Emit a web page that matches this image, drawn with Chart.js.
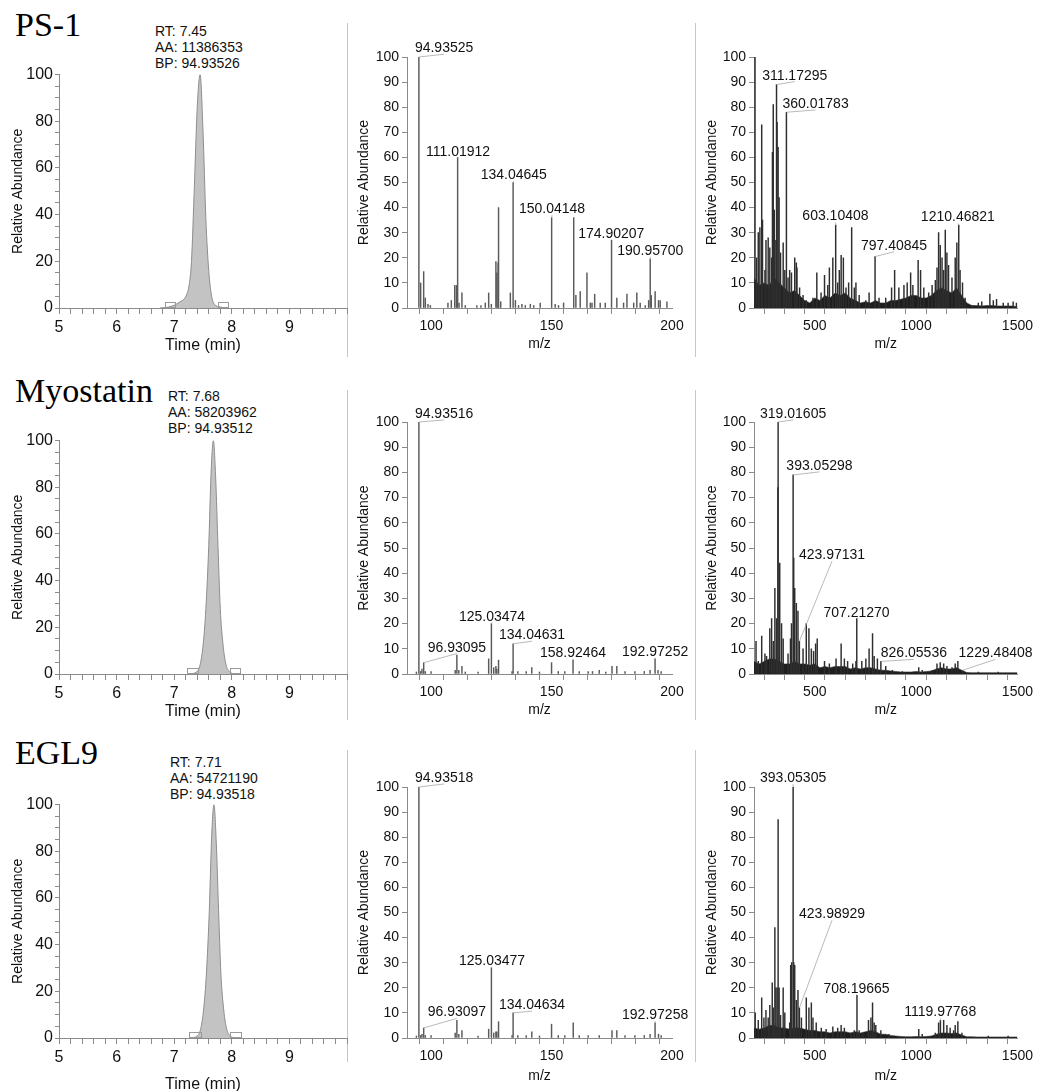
<!DOCTYPE html>
<html>
<head>
<meta charset="utf-8">
<title>PS-1 / Myostatin / EGL9</title>
<script src="https://cdn.jsdelivr.net/npm/chart.js@4.4.1/dist/chart.umd.min.js"></script>
<style>
  html, body { margin: 0; padding: 0; background: #fff; overflow: hidden; }
  body { position: relative; width: 1037px; height: 1091px; font-family: "Liberation Sans", Arial, sans-serif; }
  canvas { position: absolute; }
  .name { position: absolute; font-family: "Liberation Serif", "Times New Roman", serif; font-size: 34px; line-height: 34px; color: #000; white-space: nowrap; }
  .info { position: absolute; font-size: 14px; line-height: 15.8px; color: #111; white-space: nowrap; }
  .sep { position: absolute; width: 1px; background: #c6c6c6; }
</style>
</head>
<body>
<div class="name" style="left:15px; top:8px;">PS-1</div>
<div class="name" style="left:15px; top:374px;">Myostatin</div>
<div class="name" style="left:15px; top:736px;">EGL9</div>
<div class="info" style="left:155px; top:24px;">RT: 7.45<br>AA: 11386353<br>BP: 94.93526</div>
<div class="info" style="left:168px; top:389px;">RT: 7.68<br>AA: 58203962<br>BP: 94.93512</div>
<div class="info" style="left:170px; top:755px;">RT: 7.71<br>AA: 54721190<br>BP: 94.93518</div>

<div class="sep" style="left:347px; top:23px; height:334px;"></div>
<div class="sep" style="left:695px; top:23px; height:334px;"></div>
<div class="sep" style="left:347px; top:390px; height:330px;"></div>
<div class="sep" style="left:695px; top:390px; height:330px;"></div>
<div class="sep" style="left:347px; top:750px; height:312px;"></div>
<div class="sep" style="left:695px; top:750px; height:312px;"></div>

<canvas id="chromPS1"></canvas>
<canvas id="chromMyo"></canvas>
<canvas id="chromEgl"></canvas>
<canvas id="ms2PS1"></canvas>
<canvas id="ms2Myo"></canvas>
<canvas id="ms2Egl"></canvas>
<canvas id="fullPS1"></canvas>
<canvas id="fullMyo"></canvas>
<canvas id="fullEgl"></canvas>

<script>
// Chromatograms (time in min, relative abundance)
const ps1Time = [6.75, 6.90, 7.00, 7.10, 7.17, 7.22, 7.26, 7.30, 7.35, 7.40, 7.45, 7.50, 7.55, 7.60, 7.65, 7.70, 7.80, 7.95];
const ps1Abund = [0, 0.4, 1.2, 2.6, 3.8, 6, 10, 20, 52, 86, 100, 76, 38, 16, 5, 1.6, 0.4, 0];
const ps1Bounds = [[6.84, 7.01], [7.76, 7.93]];

const myoTime = [7.30, 7.38, 7.44, 7.50, 7.55, 7.60, 7.64, 7.68, 7.72, 7.76, 7.80, 7.85, 7.90, 7.96, 8.05];
const myoAbund = [0, 0.8, 3, 12, 28, 55, 86, 100, 84, 55, 28, 12, 4, 1, 0];
const myoBounds = [[7.23, 7.42], [7.97, 8.15]];

const eglTime = [7.31, 7.39, 7.45, 7.51, 7.56, 7.61, 7.65, 7.69, 7.73, 7.77, 7.81, 7.86, 7.91, 7.97, 8.06];
const eglAbund = [0, 0.8, 3, 12, 28, 55, 86, 100, 84, 55, 28, 12, 4, 1, 0];
const eglBounds = [[7.25, 7.45], [7.97, 8.16]];

// MS/MS spectra, m/z 90-200
const ps1Ms2Mz = [94.93525, 95.67, 96.92, 97.6, 98.7, 99.7, 107.0, 108.4, 109.8, 110.5, 111.01912, 111.6, 112.8, 114.2, 119.0, 120.7, 122.5, 123.9, 125.0, 126.9, 127.3, 127.8, 128.0, 128.9, 132.9, 134.04645, 135.0, 136.3, 137.7, 139.1, 141.2, 142.6, 145.3, 150.04148, 151.5, 152.9, 155.0, 159.2, 160.1, 161.9, 164.7, 166.1, 166.8, 167.9, 170.2, 172.3, 174.90207, 177.1, 179.9, 181.3, 184.1, 185.4, 186.8, 188.9, 190.3, 190.957, 191.4, 193.0, 194.4, 195.1, 197.9];
const ps1Ms2Int = [100, 10, 14.5, 4, 1.5, 1, 2, 3, 9, 9, 60, 2, 6, 1, 1, 1, 2, 6, 1.5, 18.5, 14, 18, 40, 2.5, 6, 50, 3, 1, 1.5, 1, 1.5, 1, 2, 36, 1.5, 1, 2, 36, 5, 6.5, 14, 2, 2, 5.5, 2, 2, 27, 4, 2, 5.5, 2, 6, 2, 1, 3, 19.5, 5, 6.5, 3, 3, 2.5];

const myoMs2Mz = [93.9, 94.93516, 95.6, 96.2, 96.93095, 97.6, 100.0, 110.0, 110.7, 111.5, 112.8, 114.2, 119.5, 123.9, 125.03474, 126.0, 126.9, 127.3, 128.0, 133.6, 134.04631, 136.0, 139.5, 141.8, 145.0, 150.0, 152.8, 155.5, 158.92464, 161.5, 165.2, 167.0, 169.8, 172.5, 175.1, 177.1, 180.5, 184.6, 188.5, 190.9, 192.97252, 194.2, 195.5];
const myoMs2Int = [0.8, 100, 1, 2, 4.5, 1, 1, 1.5, 7.5, 1.5, 3, 0.8, 0.8, 6, 20, 2.5, 3, 2, 5.5, 1, 12, 1, 1, 2.5, 0.8, 4.5, 1, 1, 5.5, 1, 1, 1, 1.5, 0.8, 3, 3, 1, 1, 1, 1.5, 6, 1.5, 1];

const eglMs2Mz = [93.9, 94.93518, 95.6, 96.2, 96.93097, 97.6, 100.0, 110.0, 110.7, 111.5, 112.8, 119.5, 123.9, 125.03477, 126.0, 126.9, 127.3, 128.0, 133.6, 134.04634, 136.0, 139.5, 141.8, 145.0, 150.0, 152.8, 155.5, 159.0, 161.5, 165.2, 169.8, 175.1, 177.1, 180.5, 184.6, 188.5, 190.9, 192.97258, 194.4, 195.5];
const eglMs2Int = [0.8, 100, 1, 1.5, 4, 1, 1, 2, 7, 1.5, 3, 0.8, 3.5, 28, 2, 2.5, 2.5, 6.5, 1, 10, 1, 1, 2.5, 0.8, 5.5, 1, 1, 6, 1, 1, 1, 3, 3, 1, 1, 1, 1.5, 6, 1.5, 1];

// Full scan spectra, m/z 200-1500
const ps1FullMz = [205, 213, 221, 229, 238, 242, 254, 259, 270, 278, 287, 291, 295, 300, 308, 311.17295, 314, 319, 324, 331, 344, 352, 360.01783, 368, 376, 385, 401, 409, 412, 425, 442, 458, 491, 510, 531, 548, 564, 572, 589, 603.10408, 613, 621, 630, 641, 654, 667, 682, 695, 703, 719, 752, 768, 797.40845, 817, 850, 879, 894, 915, 940, 956, 973, 984, 1010, 1022, 1038, 1062, 1079, 1095, 1103, 1111, 1119, 1128, 1136, 1144, 1152, 1160, 1177, 1193, 1201, 1210.46821, 1217, 1229, 1242, 1275, 1307, 1324, 1364, 1381, 1397, 1430, 1454, 1479, 1495];
const ps1FullInt = [100, 20, 30, 32, 73, 35, 15, 27, 28, 24, 20, 62, 81, 39, 27, 89, 74, 64, 44, 22, 26, 15, 78, 12, 15, 14, 20, 18, 16, 8, 5, 3, 4, 14, 6, 13, 9, 16, 20, 33, 10, 15, 21, 20, 8, 10, 32, 8, 10, 5, 3, 6, 20.5, 4, 4, 8, 15, 8, 9, 10, 14, 9, 19, 15, 8, 6, 9, 11, 16, 30, 25, 20, 15, 31, 22, 17, 12, 20, 26, 33, 15, 10, 4, 1, 2, 2.5, 5.5, 3, 3.5, 2, 2, 2.5, 2];

const myoFullMz = [210, 221, 238, 254, 262, 278, 287, 295, 303, 311, 318, 319.01605, 327, 336, 344, 368, 380, 385, 393.05298, 396, 401, 409, 417, 423.97131, 442, 458, 471, 483, 494, 504, 512, 548, 572, 605, 630, 646, 662, 687, 703, 707.2127, 732, 752, 768, 785, 793, 809, 826.05536, 850, 883, 932, 1013, 1030, 1079, 1103, 1119, 1136, 1152, 1177, 1193, 1206, 1229.48408, 1307, 1405];
const myoFullInt = [13, 5, 15, 8, 7, 18, 22, 13, 34, 22, 74, 100, 44, 20, 14, 8, 14, 20, 79, 46, 34, 28, 25, 13, 10, 20, 18, 10, 9, 12, 14, 5, 4, 6, 12, 6, 5, 4, 5, 22, 5, 6, 10, 16, 7, 6, 5, 3, 1.5, 1, 2.5, 1.5, 1.5, 4, 4.5, 4, 3, 2.5, 4, 5, 1.5, 0.8, 0.8];

const eglFullMz = [206, 221, 238, 249, 259, 270, 278, 290, 295, 303, 308, 314, 319, 324, 331, 344, 352, 376, 381, 386, 393.05305, 396, 401, 409, 417, 423.98929, 434, 458, 471, 483, 491, 507, 532, 556, 589, 613, 630, 646, 679, 695, 708.19665, 719, 736, 765, 777, 785, 793, 801, 826, 866, 1013, 1030, 1095, 1111, 1119.97768, 1136, 1152, 1168, 1185, 1193, 1206, 1226, 1356, 1454];
const eglFullInt = [10, 7, 16, 8, 11, 8, 13, 22, 12, 44, 20, 20, 87, 20, 9, 20, 10, 6, 29, 30, 100, 30, 29, 15, 19, 12, 8, 16, 12, 14, 8, 6, 4, 3.5, 4.5, 4, 5, 4, 2, 3, 17, 3, 2, 7, 8, 14, 6, 5, 3, 1.5, 3.5, 1.5, 2, 6, 7, 7, 5, 4, 3, 5, 6.5, 2, 0.8, 0.8];

// dense low-level signal under the full scans
const noiseMz = [200, 225, 250, 275, 300, 325, 350, 375, 400, 425, 450, 475, 500, 525, 550, 575, 600, 625, 650, 675, 700, 725, 750, 775, 800, 825, 850, 875, 900, 925, 950, 975, 1000, 1025, 1050, 1075, 1100, 1125, 1150, 1175, 1200, 1225, 1250, 1275, 1300, 1325, 1350, 1375, 1400, 1425, 1450, 1475, 1500];
const ps1Noise = [12, 9, 10, 9, 12, 10, 8, 6, 7, 5, 3, 2, 4, 3, 5, 4, 6, 5, 6, 4, 3, 2, 2.5, 2, 3, 2, 2, 3, 3, 3.5, 4, 5, 5, 4, 4, 5, 7, 8, 7, 6, 8, 5, 2, 1, 1, 0.8, 1, 1, 0.8, 0.8, 0.8, 0.8, 0.5];
const myoNoise = [5, 4, 5, 6, 6, 5, 4, 4, 5, 4, 4, 3.5, 4, 2.5, 3, 2.5, 3, 3, 3, 2, 2.5, 2, 2.5, 2.5, 2, 1.5, 1.5, 1.2, 1, 0.8, 0.8, 0.8, 1, 0.8, 1, 1.2, 2, 2.5, 2, 2, 2.5, 1.5, 0.6, 0.5, 0.5, 0.5, 0.5, 0.5, 0.5, 0.5, 0.5, 0.5, 0.5];
const eglNoise = [4, 3.5, 4, 5, 5, 4, 4, 3.5, 4, 4, 3.5, 3, 3, 2.5, 2.5, 2, 2.5, 2.5, 2.5, 2, 2.5, 2, 2.5, 3, 2.5, 1.5, 1.5, 1, 0.8, 0.6, 0.5, 0.5, 0.6, 0.5, 0.6, 0.8, 1.5, 2, 2, 1.8, 2, 1.2, 0.5, 0.5, 0.4, 0.4, 0.4, 0.4, 0.4, 0.4, 0.4, 0.4, 0.4];

// labelled peaks: m/z and where the label text sits (m/z, abundance of its baseline)
const ps1Ms2Labels = [[94.93525, 105.4, 101.9], [111.01912, 111.2, 60.7], [134.04645, 134.3, 51.4], [150.04148, 150.2, 37.8], [174.90207, 174.8, 28], [190.957, 191.0, 21.2]];
const myoMs2Labels = [[94.93516, 105.4, 101.6], [96.93095, 110.7, 8.9], [125.03474, 125.3, 21.2], [134.04631, 141.9, 13.8], [158.92464, 158.9, 6.9], [192.97252, 193.0, 7.2]];
const eglMs2Labels = [[94.93518, 105.4, 102], [96.93097, 110.7, 8.6], [125.03477, 125.3, 29.1], [134.04634, 141.9, 11.5], [192.97258, 193.0, 7.5]];
const ps1FullLabels = [[311.17295, 401, 91], [360.01783, 504, 79.7], [603.10408, 602, 34.9], [797.40845, 891, 23.2], [1210.46821, 1206, 34.5]];
const myoFullLabels = [[319.01605, 393, 101.6], [393.05298, 523, 81], [423.97131, 585, 45.6], [707.2127, 706, 22.8], [826.05536, 989, 6.6], [1229.48408, 1392, 6.6]];
const eglFullLabels = [[393.05305, 393, 102], [423.98929, 585, 47.7], [708.19665, 706, 18.1], [1119.97768, 1119, 8.6]];

const AXIS_GREY = "#8a8a8a";
const FONT = '"Liberation Sans", Arial, sans-serif';
Chart.defaults.font.family = FONT;
Chart.defaults.color = "#111";

function isWhole(v) {
  return Math.abs(v - Math.round(v)) < 1e-6;
}

function axisLook(tickLen) {
  return {
    grid: { display: true, drawOnChartArea: false, drawTicks: true, tickLength: tickLen, color: AXIS_GREY, lineWidth: 1 },
    border: { display: true, color: AXIS_GREY, width: 1 },
  };
}

function placeCanvas(id, box) {
  const canvas = document.getElementById(id);
  const left = box.L - box.W;
  const top = box.T - box.padTop;
  canvas.width = box.R + box.padRight - left;
  canvas.height = box.B + box.H - top;
  canvas.style.left = left + "px";
  canvas.style.top = top + "px";
  return canvas;
}

// small integration markers at the baseline
const boundaryBoxes = {
  id: "boundaryBoxes",
  afterDatasetsDraw(chart, args, opts) {
    const { ctx, scales } = chart;
    const y0 = scales.y.getPixelForValue(0);
    ctx.save();
    ctx.strokeStyle = "#9a9a9a";
    ctx.lineWidth = 1;
    (opts.bounds || []).forEach((b) => {
      const x1 = scales.x.getPixelForValue(b[0]);
      const x2 = scales.x.getPixelForValue(b[1]);
      ctx.strokeRect(Math.round(x1) + 0.5, y0 - 5.5, Math.round(x2 - x1), 5);
    });
    ctx.restore();
  },
};

// m/z labels with leader lines
const peakLabels = {
  id: "peakLabels",
  afterDatasetsDraw(chart, args, opts) {
    const { ctx, scales } = chart;
    const mz = opts.mz, inten = opts.inten;
    ctx.save();
    ctx.font = "14px " + FONT;
    ctx.textAlign = "center";
    ctx.textBaseline = "alphabetic";
    (opts.labels || []).forEach((l) => {
      const i = mz.indexOf(l[0]);
      const px = scales.x.getPixelForValue(l[0]);
      const py = scales.y.getPixelForValue(inten[i]);
      const tx = scales.x.getPixelForValue(l[1]);
      const ty = scales.y.getPixelForValue(l[2]);
      ctx.strokeStyle = "#a8a8a8";
      ctx.lineWidth = 0.8;
      ctx.beginPath();
      ctx.moveTo(px, py);
      ctx.lineTo(tx, ty + 2);
      ctx.stroke();
      ctx.fillStyle = "#111";
      ctx.fillText(l[0].toFixed(5), tx, ty);
    });
    ctx.restore();
  },
};

function drawChromatogram(id, box, times, abund, bounds) {
  const canvas = placeCanvas(id, box);
  new Chart(canvas, {
    type: "line",
    data: {
      datasets: [{
        data: times.map((t, i) => ({ x: t, y: abund[i] })),
        fill: "origin",
        backgroundColor: "#c3c3c3",
        borderColor: "#8e8e8e",
        borderWidth: 1,
        pointRadius: 0,
        cubicInterpolationMode: "monotone",
      }],
    },
    options: {
      responsive: false,
      animation: false,
      layout: { padding: { top: box.padTop, right: box.padRight, left: 0, bottom: 0 } },
      plugins: { legend: { display: false }, tooltip: { enabled: false }, boundaryBoxes: { bounds: bounds } },
      scales: {
        x: {
          type: "linear", min: 5, max: 10, ...axisLook(6),
          ticks: { stepSize: 0.2, maxTicksLimit: 1000, autoSkip: false, maxRotation: 0, padding: 4, font: { size: 16 },
            callback: (v) => (isWhole(v) && v < 10 ? String(Math.round(v)) : "") },
          title: { display: true, text: "Time (min)", font: { size: 16 }, padding: 0 },
          afterFit: (s) => { s.height = box.H; },
        },
        y: {
          min: 0, max: 100, ...axisLook(4),
          ticks: { stepSize: 5, maxTicksLimit: 1000, autoSkip: false, padding: 2, font: { size: 16 },
            callback: (v) => (v % 20 === 0 ? String(v) : "") },
          title: { display: true, text: "Relative Abundance", font: { size: 14 }, padding: 0 },
          afterFit: (s) => { s.width = box.W; },
        },
      },
    },
    plugins: [boundaryBoxes],
  });
}

function drawSpectrum(id, box, mz, inten, labels, range, noise) {
  const canvas = placeCanvas(id, box);
  const datasets = [{
    type: "bar",
    data: mz.map((m, i) => ({ x: m, y: inten[i] })),
    backgroundColor: noise ? "#2e2e2e" : "#5a5a5a",
    borderWidth: 0,
    barThickness: 0.8,
    order: 1,
  }];
  if (noise) {
    datasets.push({
      type: "line",
      data: noiseMz.map((m, i) => ({ x: m, y: noise[i] })),
      fill: "origin",
      backgroundColor: "#1e1e1e",
      borderColor: "#333",
      borderWidth: 0.6,
      pointRadius: 0,
      order: 2,
    });
  }
  new Chart(canvas, {
    type: "bar",
    data: { datasets: datasets },
    options: {
      responsive: false,
      animation: false,
      layout: { padding: { top: box.padTop, right: box.padRight, left: 0, bottom: 0 } },
      plugins: { legend: { display: false }, tooltip: { enabled: false }, peakLabels: { mz: mz, inten: inten, labels: labels } },
      scales: {
        x: {
          type: "linear", min: range.min, max: range.max, offset: false, ...axisLook(6),
          ticks: { stepSize: range.step, maxTicksLimit: 1000, autoSkip: false, maxRotation: 0, padding: 4, font: { size: 14 },
            callback: (v) => (isWhole(v / range.label) && v >= range.first ? String(Math.round(v)) : "") },
          title: { display: true, text: "m/z", font: { size: 14 }, padding: 0 },
          afterFit: (s) => { s.height = box.H; },
        },
        y: {
          min: 0, max: 100, ...axisLook(5),
          ticks: { stepSize: 10, autoSkip: false, padding: 3, font: { size: 14 } },
          title: { display: true, text: "Relative Abundance", font: { size: 14 }, padding: 0 },
          afterFit: (s) => { s.width = box.W; },
        },
      },
    },
    plugins: [peakLabels],
  });
}

const ms2Range = { min: 90, max: 200, step: 10, label: 50, first: 100 };
const fullRange = { min: 200, max: 1500, step: 100, label: 500, first: 500 };

drawChromatogram("chromPS1", { L: 59, T: 73, R: 347, B: 308, W: 49, H: 47, padTop: 10, padRight: 6 }, ps1Time, ps1Abund, ps1Bounds);
drawChromatogram("chromMyo", { L: 59, T: 439, R: 347, B: 674, W: 49, H: 47, padTop: 10, padRight: 6 }, myoTime, myoAbund, myoBounds);
drawChromatogram("chromEgl", { L: 59, T: 803, R: 347, B: 1038, W: 49, H: 56, padTop: 10, padRight: 6 }, eglTime, eglAbund, eglBounds);

drawSpectrum("ms2PS1", { L: 407, T: 57, R: 672, B: 308, W: 51, H: 45, padTop: 26, padRight: 18 }, ps1Ms2Mz, ps1Ms2Int, ps1Ms2Labels, ms2Range);
drawSpectrum("ms2Myo", { L: 407, T: 422, R: 672, B: 674, W: 51, H: 45, padTop: 26, padRight: 18 }, myoMs2Mz, myoMs2Int, myoMs2Labels, ms2Range);
drawSpectrum("ms2Egl", { L: 407, T: 787, R: 672, B: 1038, W: 51, H: 47, padTop: 26, padRight: 18 }, eglMs2Mz, eglMs2Int, eglMs2Labels, ms2Range);

drawSpectrum("fullPS1", { L: 754, T: 57, R: 1019, B: 308, W: 50, H: 45, padTop: 26, padRight: 18 }, ps1FullMz, ps1FullInt, ps1FullLabels, fullRange, ps1Noise);
drawSpectrum("fullMyo", { L: 754, T: 422, R: 1019, B: 674, W: 50, H: 45, padTop: 26, padRight: 18 }, myoFullMz, myoFullInt, myoFullLabels, fullRange, myoNoise);
drawSpectrum("fullEgl", { L: 754, T: 787, R: 1019, B: 1038, W: 50, H: 47, padTop: 26, padRight: 18 }, eglFullMz, eglFullInt, eglFullLabels, fullRange, eglNoise);
</script>
</body>
</html>
